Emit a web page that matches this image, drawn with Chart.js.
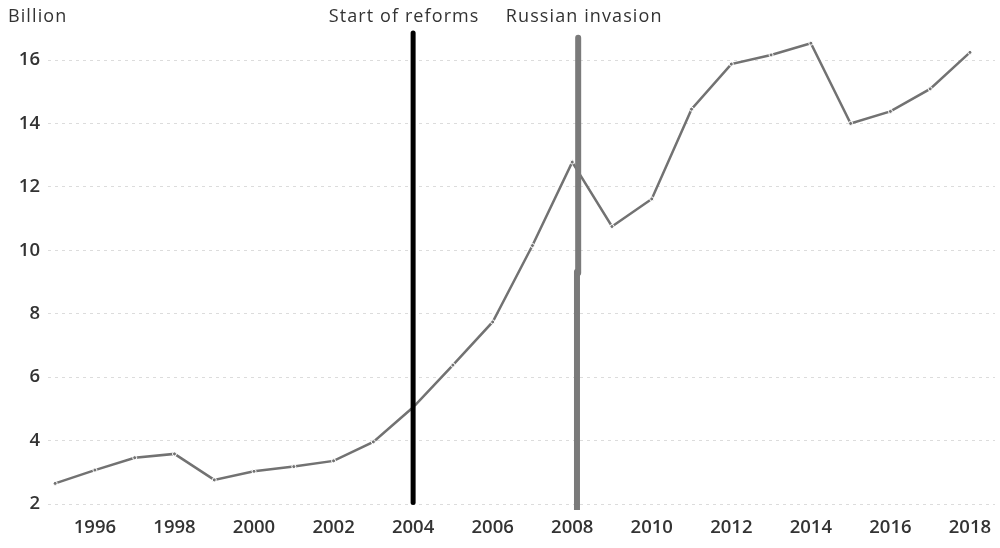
<!DOCTYPE html>
<html>
<head>
<meta charset="utf-8">
<script src="https://cdn.jsdelivr.net/npm/chart.js@4"></script>
<style>
  html, body { margin: 0; padding: 0; background: #fff; }
  #wrap { width: 1000px; height: 548px; position: relative; }
</style>
</head>
<body>
<div id="wrap"><canvas id="c" width="1000" height="548"></canvas></div>
<script>
const years = [1995,1996,1997,1998,1999,2000,2001,2002,2003,2004,2005,2006,2007,2008,2009,2010,2011,2012,2013,2014,2015,2016,2017,2018];
const values = [2.65,3.07,3.46,3.58,2.76,3.03,3.18,3.36,3.96,5.05,6.38,7.74,10.15,12.78,10.75,11.62,14.45,15.87,16.16,16.53,14.0,14.38,15.09,16.24];
const xTicks = [1996,1998,2000,2002,2004,2006,2008,2010,2012,2014,2016,2018];
const yTicks = [2,4,6,8,10,12,14,16];
const axisTitle = 'Billion';
const eventLabels = ['Start of reforms', 'Russian invasion'];
const reformYear = 2004;
const reformSpan = [2.05, 16.85];
const invasionYear = [2008.15, 2008.12];
const invasionUpper = [9.28, 16.7];
const invasionLower = [1.8, 9.32];

const FONT = '"Open Sans", "Noto Sans", sans-serif';
const TXT = '#333333';

const textPlugin = {
  id: 'texts',
  afterDraw(chart) {
    const ctx = chart.ctx;
    const xs = chart.scales.x;
    ctx.save();
    ctx.fillStyle = TXT;
    ctx.textBaseline = 'middle';
    ctx.font = '500 18px ' + FONT;
    try { ctx.letterSpacing = '1.1px'; } catch (e) {}
    ctx.textAlign = 'left';
    ctx.fillText(axisTitle, 8, 17);
    ctx.textAlign = 'center';
    ctx.fillText(eventLabels[0], xs.getPixelForValue(reformYear) - 9, 17);
    ctx.fillText(eventLabels[1], xs.getPixelForValue(invasionYear[0]) + 6, 17);
    ctx.restore();
  }
};

new Chart(document.getElementById('c'), {
  type: 'line',
  data: {
    datasets: [
      {
        data: [{x: reformYear, y: reformSpan[0]}, {x: reformYear, y: reformSpan[1]}],
        borderColor: '#000', borderWidth: 5, borderCapStyle: 'round',
        pointRadius: 0, fill: false
      },
      {
        data: [{x: invasionYear[0], y: invasionUpper[0]}, {x: invasionYear[0], y: invasionUpper[1]}],
        borderColor: '#7a7a7a', borderWidth: 6, borderCapStyle: 'round',
        pointRadius: 0, fill: false
      },
      {
        data: [{x: invasionYear[1], y: invasionLower[0]}, {x: invasionYear[1], y: invasionLower[1]}],
        borderColor: '#7a7a7a', borderWidth: 6, borderCapStyle: 'round',
        pointRadius: 0, fill: false
      },
      {
        data: years.map((y, i) => ({x: y, y: values[i]})),
        borderColor: '#727272', borderWidth: 2.5,
        pointRadius: 2, pointBackgroundColor: '#727272',
        pointBorderColor: '#fff', pointBorderWidth: 1,
        tension: 0, fill: false
      }
    ]
  },
  options: {
    responsive: false,
    animation: false,
    events: [],
    layout: { padding: { top: 30, right: 5, left: 0, bottom: 0 } },
    plugins: { legend: { display: false }, tooltip: { enabled: false }, title: { display: false } },
    scales: {
      x: {
        type: 'linear',
        min: 1994.82, max: 2018.63,
        afterBuildTicks(s) { s.ticks = xTicks.map(v => ({value: v})); },
        afterFit(s) { s.height = 38; },
        grid: { display: false, drawTicks: false },
        border: { display: false },
        ticks: {
          autoSkip: false, maxRotation: 0, padding: 7,
          color: TXT, font: { family: FONT, size: 18.5, weight: '600' },
          callback: v => String(v)
        }
      },
      y: {
        min: 1.811, max: 16.946,
        afterBuildTicks(s) { s.ticks = yTicks.map(v => ({value: v})); },
        afterFit(s) { s.width = 48; },
        grid: { color: '#dcdcdc', lineWidth: 1, drawTicks: false },
        border: { display: false, dash: [3, 4] },
        ticks: {
          padding: 8, color: TXT,
          font: { family: FONT, size: 18.5, weight: '600' },
          callback: v => String(v)
        }
      }
    }
  },
  plugins: [textPlugin]
});
</script>
</body>
</html>
